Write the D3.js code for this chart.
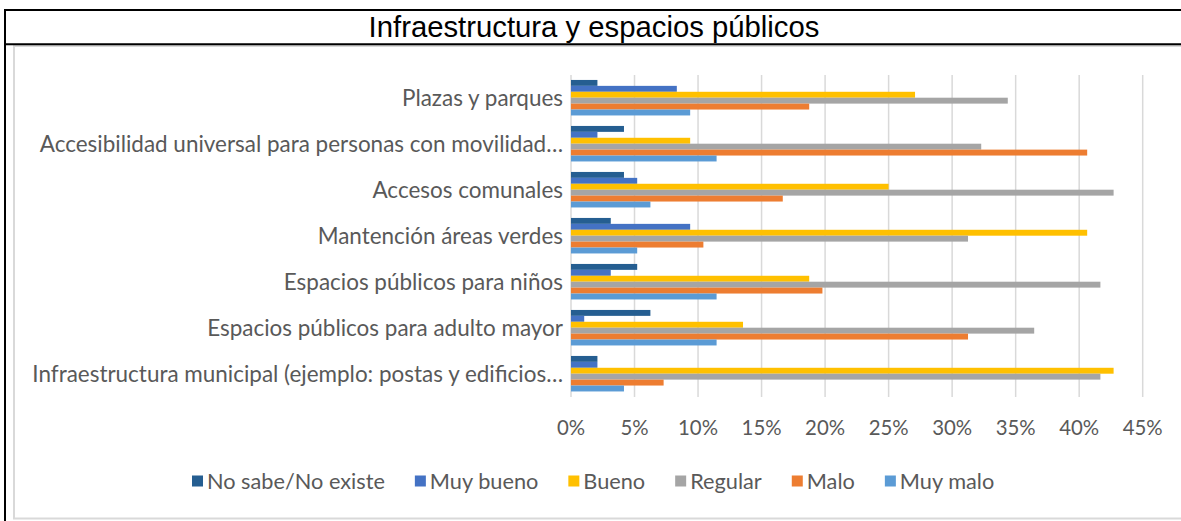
<!DOCTYPE html>
<html>
<head>
<meta charset="utf-8">
<script src="https://cdn.jsdelivr.net/npm/d3@7"></script>
<style>
  body { margin: 0; background: #fff; }
  text { font-family: Lato, "Open Sans", sans-serif; }
</style>
</head>
<body>
<svg width="1181" height="521"></svg>
<script>
// categories, top to bottom as shown
const categories = [
  "Plazas y parques",
  "Accesibilidad universal para personas con movilidad…",
  "Accesos comunales",
  "Mantención áreas verdes",
  "Espacios públicos para niños",
  "Espacios públicos para adulto mayor",
  "Infraestructura municipal (ejemplo: postas y edificios…"
];

// series (percent)
const seriesNames = ["No sabe/No existe", "Muy bueno", "Bueno", "Regular", "Malo", "Muy malo"];
const seriesColors = ["#255e91", "#4472c4", "#ffc000", "#a5a5a5", "#ed7d31", "#5b9bd5"];

const noSabe   = [2.08, 4.17, 4.17, 3.13, 5.21, 6.25, 2.08];
const muyBueno = [8.33, 2.08, 5.21, 9.38, 3.13, 1.04, 2.08];
const bueno    = [27.08, 9.38, 25.00, 40.63, 18.75, 13.54, 42.71];
const regular  = [34.38, 32.29, 42.71, 31.25, 41.67, 36.46, 41.67];
const malo     = [18.75, 40.63, 16.67, 10.42, 19.79, 31.25, 7.29];
const muyMalo  = [9.38, 11.46, 6.25, 5.21, 11.46, 11.46, 4.17];

const xTicks = [0, 5, 10, 15, 20, 25, 30, 35, 40, 45];
const title = "Infraestructura y espacios públicos";

const allSeries = [noSabe, muyBueno, bueno, regular, malo, muyMalo];
const rows = categories.map((c, i) => ({
  cat: c,
  values: seriesNames.map((s, j) => ({ key: s, value: allSeries[j][i] }))
}));

const svg = d3.select("svg");
const textColor = "#595959";

// font size so that a text reaches a wanted width
function fitSize(sel, target) {
  const w = sel.node().getComputedTextLength();
  return parseFloat(sel.attr("font-size")) * target / w;
}

// frame (table cell look)
svg.append("rect")
  .attr("x", 14).attr("y", 46)
  .attr("width", 1200).attr("height", 472.5)
  .attr("fill", "#fff")
  .attr("stroke", "#d9d9d9").attr("stroke-width", 2);
svg.append("line").attr("x1", 4).attr("x2", 1181).attr("y1", 10).attr("y2", 10)
  .attr("stroke", "#000").attr("stroke-width", 2);
svg.append("line").attr("x1", 4).attr("x2", 1181).attr("y1", 44.3).attr("y2", 44.3)
  .attr("stroke", "#000").attr("stroke-width", 2);
svg.append("line").attr("x1", 5).attr("x2", 5).attr("y1", 9).attr("y2", 521)
  .attr("stroke", "#000").attr("stroke-width", 2);

// title
const t = svg.append("text")
  .attr("x", 594).attr("y", 37)
  .attr("text-anchor", "middle")
  .attr("font-size", 22)
  .style("font-family", "'Liberation Sans', Arial, sans-serif")
  .attr("fill", "#000")
  .text(title);
t.attr("font-size", fitSize(t, 451));

// scales
const x = d3.scaleLinear().domain([0, 45]).range([571, 1142.7]);
const y = d3.scaleBand().domain(categories).range([74.7, 396.7])
  .paddingInner(0.228).paddingOuter(0.114);
const ys = d3.scaleBand().domain(seriesNames).range([0, y.bandwidth()]);
const color = d3.scaleOrdinal().domain(seriesNames).range(seriesColors);

// gridlines
svg.append("g")
  .selectAll("line")
  .data(xTicks)
  .join("line")
  .attr("x1", d => x(d)).attr("x2", d => x(d))
  .attr("y1", 75).attr("y2", 397)
  .attr("stroke", "#d9d9d9").attr("stroke-width", 1.5);

// bars
const groups = svg.append("g")
  .selectAll("g")
  .data(rows)
  .join("g")
  .attr("transform", d => `translate(0,${y(d.cat)})`);

groups.selectAll("rect")
  .data(d => d.values)
  .join("rect")
  .attr("x", x(0))
  .attr("y", d => ys(d.key))
  .attr("width", d => x(d.value) - x(0))
  .attr("height", ys.bandwidth())
  .attr("fill", d => color(d.key));

// category labels
const catLabels = svg.append("g")
  .selectAll("text")
  .data(categories)
  .join("text")
  .attr("x", 563)
  .attr("y", d => y(d) + y.bandwidth() / 2)
  .attr("dy", "0.35em")
  .attr("text-anchor", "end")
  .attr("font-size", 16)
  .attr("fill", textColor)
  .text(d => d);
const catSize = fitSize(catLabels.filter((d, i) => i === 6), 531);
catLabels.attr("font-size", catSize);

// x axis labels
const tickLabels = svg.append("g")
  .selectAll("text")
  .data(xTicks)
  .join("text")
  .attr("x", d => x(d))
  .attr("y", 428)
  .attr("dy", "0.35em")
  .attr("text-anchor", "middle")
  .attr("font-size", 17)
  .attr("fill", textColor)
  .text(d => d + "%");
tickLabels.attr("font-size", fitSize(tickLabels.filter(d => d === 45), 40));

// legend
const legend = svg.append("g");
let lx = 192;
let legendSize = null;
seriesNames.forEach((s, i) => {
  legend.append("rect")
    .attr("x", lx).attr("y", 475.5)
    .attr("width", 11).attr("height", 11)
    .attr("fill", seriesColors[i]);
  const lt = legend.append("text")
    .attr("x", lx + 15).attr("y", 481)
    .attr("dy", "0.35em")
    .attr("font-size", 17)
    .attr("fill", textColor)
    .text(s);
  if (legendSize === null) legendSize = fitSize(lt, 178);
  lt.attr("font-size", legendSize);
  lx += 15 + lt.node().getComputedTextLength() + 30;
});
</script>
</body>
</html>
